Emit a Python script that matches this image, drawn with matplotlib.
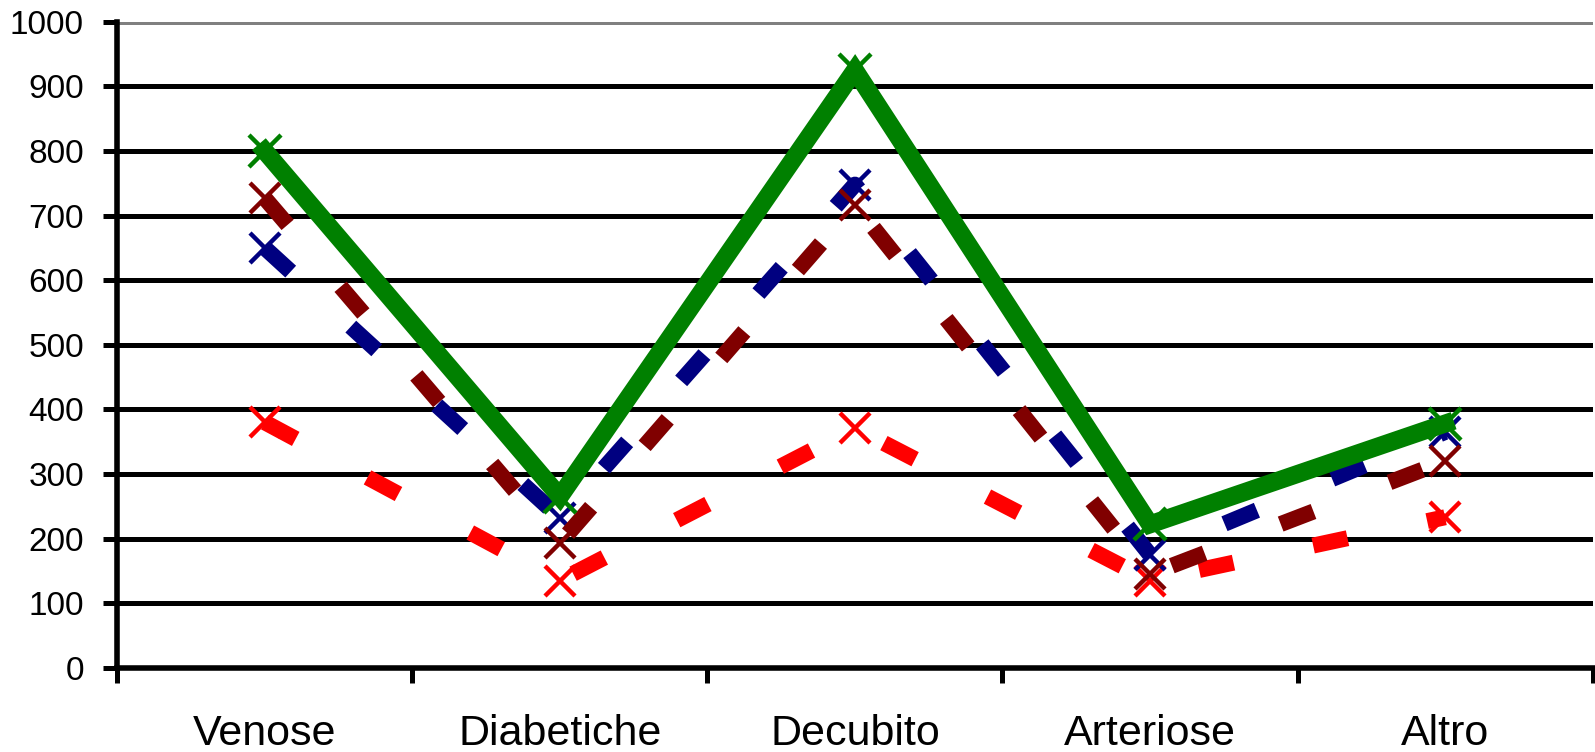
import matplotlib.pyplot as plt
import numpy as np

plt.rcParams["font.family"] = ["Liberation Sans", "DejaVu Sans"]

categories = ["Venose", "Diabetiche", "Decubito", "Arteriose", "Altro"]

# one series per colour, same category order
totale = [800, 265, 925, 222, 378]
serie_blu = [650, 232, 748, 175, 365]
serie_bordeaux = [727, 193, 717, 145, 320]
serie_rossa = [380, 135, 371, 135, 233]

yticks = list(range(0, 1001, 100))

fig = plt.figure(figsize=(15.95, 7.52), dpi=100)
ax = fig.add_axes([0.0735, 0.112, 0.925, 0.859])

x = np.arange(len(categories))

dash = (2.2, 5.1)
dashed = dict(lw=11.5, linestyle=(0, dash), dash_capstyle="butt",
              marker="x", ms=22, mew=3.2)
ax.plot(x, serie_rossa, color="#FF0000", zorder=3, **dashed)
ax.plot(x, serie_blu, color="#000080", zorder=4, **dashed)
ax.plot(x, serie_bordeaux, color="#800000", zorder=5, **dashed)
ax.plot(x, totale, color="#008000", lw=13, solid_joinstyle="miter",
        marker="x", ms=23, mew=3.2, zorder=6)

ax.set_xlim(-0.5, len(categories) - 0.5)
ax.set_ylim(0, 1000)

# horizontal grid: black, with the top line in grey
ax.set_yticks(yticks)
ax.set_yticklabels([str(v) for v in yticks], fontsize=24)
ax.grid(axis="y", color="black", lw=3.6, zorder=1)
ax.get_ygridlines()[-1].set_color("#808080")
ax.tick_params(axis="y", length=10, width=3.6, pad=14)

# category labels centred, tick marks on the boundaries
ax.set_xticks(x)
ax.set_xticklabels(categories, fontsize=31)
ax.set_xticks(np.arange(-0.5, len(categories)), minor=True)
ax.tick_params(axis="x", which="major", length=0, pad=33)
ax.tick_params(axis="x", which="minor", length=11, width=3.6)

for side in ("top", "right"):
    ax.spines[side].set_visible(False)
for side in ("left", "bottom"):
    ax.spines[side].set_linewidth(4)
ax.spines["bottom"].set_zorder(2)

fig.savefig("out.png", dpi=100)
